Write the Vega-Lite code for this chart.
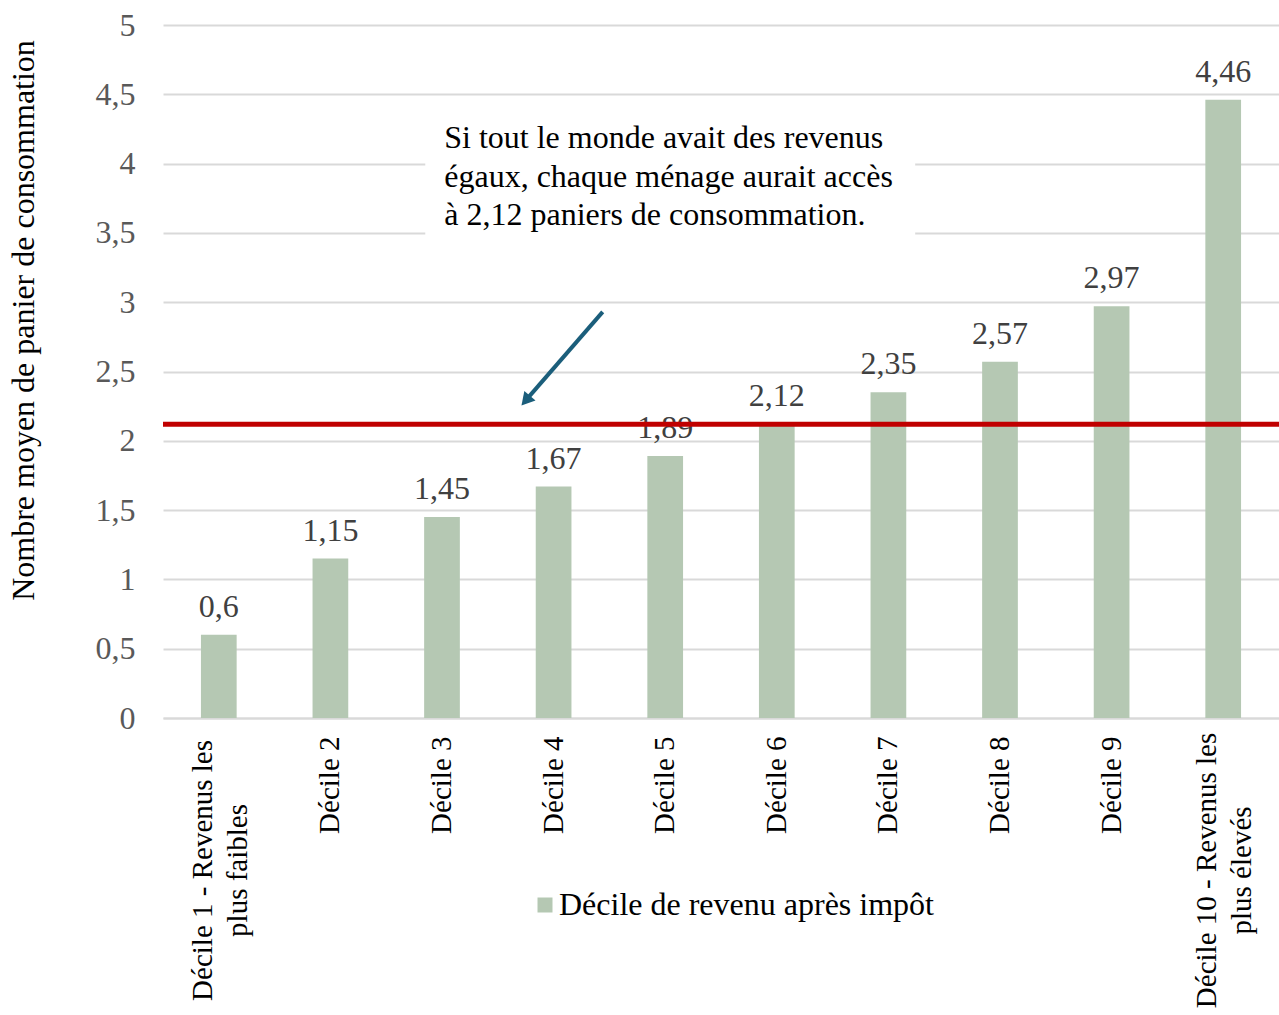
{
  "$schema": "https://vega.github.io/schema/vega-lite/v6.json",
  "width": 1116,
  "height": 693,
  "autosize": "none",
  "padding": {"left": 163, "top": 25, "right": 0, "bottom": 297},
  "config": {
    "font": "Liberation Serif",
    "view": {"stroke": null},
    "locale": {"number": {"decimal": ",", "thousands": " ", "grouping": [3], "currency": ["", " €"]}}
  },
  "datasets": {
    "deciles": [
      {"decile": "Décile 1 - Revenus les plus faibles", "etiquette": "Décile 1 - Revenus les\nplus faibles", "valeur": 0.6, "serie": "Décile de revenu après impôt"},
      {"decile": "Décile 2", "etiquette": "Décile 2", "valeur": 1.15, "serie": "Décile de revenu après impôt"},
      {"decile": "Décile 3", "etiquette": "Décile 3", "valeur": 1.45, "serie": "Décile de revenu après impôt"},
      {"decile": "Décile 4", "etiquette": "Décile 4", "valeur": 1.67, "serie": "Décile de revenu après impôt"},
      {"decile": "Décile 5", "etiquette": "Décile 5", "valeur": 1.89, "serie": "Décile de revenu après impôt"},
      {"decile": "Décile 6", "etiquette": "Décile 6", "valeur": 2.12, "serie": "Décile de revenu après impôt"},
      {"decile": "Décile 7", "etiquette": "Décile 7", "valeur": 2.35, "serie": "Décile de revenu après impôt"},
      {"decile": "Décile 8", "etiquette": "Décile 8", "valeur": 2.57, "serie": "Décile de revenu après impôt"},
      {"decile": "Décile 9", "etiquette": "Décile 9", "valeur": 2.97, "serie": "Décile de revenu après impôt"},
      {"decile": "Décile 10 - Revenus les plus élevés", "etiquette": "Décile 10 - Revenus les\nplus élevés", "valeur": 4.46, "serie": "Décile de revenu après impôt"}
    ]
  },
  "layer": [
    {
      "data": {"name": "deciles"},
      "encoding": {
        "x": {
          "field": "decile", "type": "nominal", "sort": null,
          "scale": {"paddingInner": 0.68, "paddingOuter": 0.34},
          "axis": {
            "title": null,
            "labelAngle": -90,
            "labelAlign": "right",
            "labelBaseline": "middle",
            "labelPadding": 18,
            "labelFontSize": 29,
            "labelColor": "#000000",
            "labelLimit": 0,
            "ticks": false,
            "domain": true,
            "domainColor": "#d9d9d9",
            "domainWidth": 2,
            "labelExpr": "indexof(datum.value, ' - ') >= 0 ? '' : datum.value"
          }
        },
        "y": {
          "field": "valeur", "type": "quantitative",
          "scale": {"domain": [0, 5], "nice": false},
          "axis": {
            "values": [0, 0.5, 1, 1.5, 2, 2.5, 3, 3.5, 4, 4.5, 5],
            "format": ".1~f",
            "labelFontSize": 32,
            "labelColor": "#595959",
            "labelPadding": 28,
            "ticks": false,
            "domain": false,
            "grid": true,
            "gridColor": "#d9d9d9",
            "gridWidth": 2,
            "title": "Nombre moyen de panier de consommation",
            "titleFontSize": 32,
            "titleFontWeight": "normal",
            "titleColor": "#000000",
            "titleX": -130,
            "titleY": 295,
            "titleBaseline": "alphabetic"
          }
        }
      },
      "layer": [
        {
          "mark": {"type": "bar", "color": "#b5c8b3"},
          "encoding": {
            "color": {
              "field": "serie", "type": "nominal",
              "scale": {"range": ["#b5c8b3"]},
              "legend": {
                "orient": "none",
                "legendX": 366,
                "legendY": 864,
                "title": null,
                "symbolType": "square",
                "symbolSize": 225,
                "symbolStrokeWidth": 0,
                "labelFontSize": 32,
                "labelColor": "#000000",
                "labelOffset": -2,
                "labelLimit": 0
              }
            }
          }
        },
        {
          "mark": {"type": "text", "fontSize": 32, "color": "#404040", "baseline": "alphabetic", "dy": -18},
          "encoding": {
            "text": {"field": "valeur", "type": "quantitative", "format": ".2~f"}
          }
        },
        {
          "transform": [{"filter": "indexof(datum.decile, ' - ') >= 0"}],
          "mark": {"type": "text", "fontSize": 29, "color": "#000000", "angle": 270, "align": "center", "baseline": "middle", "lineHeight": 35, "lineBreak": "\n", "dy": -16},
          "encoding": {
            "y": {"datum": -1.1, "type": "quantitative"},
            "text": {"field": "etiquette", "type": "nominal"}
          }
        }
      ]
    },
    {
      "data": {"values": [{"nom": "moyenne"}]},
      "mark": {"type": "rule", "color": "#c00000", "strokeWidth": 5},
      "encoding": {"y": {"datum": 2.12, "type": "quantitative"}}
    },
    {
      "data": {"values": [{"nom": "annotation"}]},
      "layer": [
        {
          "mark": {"type": "rect", "color": "#ffffff"},
          "encoding": {
            "x": {"datum": 2.35, "type": "quantitative", "scale": {"domain": [0, 10], "nice": false, "zero": false}, "axis": null},
            "x2": {"datum": 6.74},
            "y": {"datum": 4.42, "type": "quantitative"},
            "y2": {"datum": 3.45}
          }
        },
        {
          "mark": {"type": "text", "fontSize": 32, "color": "#000000", "align": "left", "baseline": "alphabetic", "lineHeight": 38.5},
          "encoding": {
            "x": {"datum": 2.52, "type": "quantitative"},
            "y": {"datum": 4.11, "type": "quantitative"},
            "text": {"value": ["Si tout le monde avait des revenus", "égaux, chaque ménage aurait accès", "à 2,12 paniers de consommation."]}
          }
        },
        {
          "mark": {"type": "rule", "color": "#1b5e7b", "strokeWidth": 4},
          "encoding": {
            "x": {"datum": 3.94, "type": "quantitative"},
            "y": {"datum": 2.93, "type": "quantitative"},
            "x2": {"datum": 3.27},
            "y2": {"datum": 2.31}
          }
        },
        {
          "mark": {"type": "point", "shape": "triangle-up", "filled": true, "color": "#1b5e7b", "opacity": 1, "size": 220, "angle": 221},
          "encoding": {
            "x": {"datum": 3.25, "type": "quantitative"},
            "y": {"datum": 2.29, "type": "quantitative"}
          }
        }
      ]
    }
  ],
  "resolve": {"scale": {"x": "independent"}}
}
